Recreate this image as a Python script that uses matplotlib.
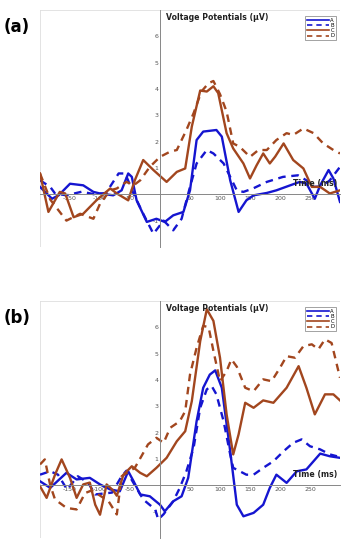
import matplotlib
matplotlib.use("Agg")
import matplotlib.pyplot as plt

# ---------------- data (panel a) ----------------
a_A_t = [-200, -180, -169, -150, -128, -111, -100, -78, -64, -53, -47, -39, -22, -6, 8, 22, 39, 50, 61, 72, 94, 103, 117, 131, 144, 156, 178, 194, 217, 233, 244, 258, 267, 281, 289, 300]
a_A_v = [0.28, -0.17, -0.04, 0.40, 0.34, 0.09, 0.03, -0.04, 0.15, 0.79, 0.66, -0.23, -1.05, -0.93, -1.05, -0.80, -0.67, 0.15, 2.06, 2.38, 2.44, 2.19, 0.53, -0.67, -0.23, -0.04, 0.05, 0.15, 0.34, 0.47, 0.41, -0.17, 0.34, 0.92, 0.60, -0.29]

a_B_t = [-200, -183, -175, -156, -130, -110, -90, -69, -58, -44, -28, -11, 6, 22, 36, 50, 61, 78, 89, 106, 117, 128, 139, 155, 178, 205, 230, 244, 256, 270, 283, 300]
a_B_v = [0.53, 0.28, 0.03, -0.04, 0.10, 0.00, 0.05, 0.79, 0.79, 0.02, -0.74, -1.50, -1.00, -1.37, -0.93, 0.28, 1.17, 1.68, 1.55, 1.17, 0.66, 0.15, 0.09, 0.22, 0.47, 0.66, 0.72, 0.53, 0.28, 0.30, 0.53, 1.04]

a_C_t = [-200, -186, -167, -158, -144, -128, -106, -83, -72, -53, -42, -28, -11, 11, 28, 42, 53, 67, 78, 89, 97, 111, 122, 139, 150, 161, 172, 183, 192, 206, 222, 239, 253, 267, 283, 300]
a_C_v = [0.79, -0.67, 0.09, 0.03, -0.87, -0.74, -0.23, 0.22, 0.03, -0.23, 0.53, 1.30, 0.92, 0.47, 0.85, 0.98, 2.57, 3.94, 3.90, 4.10, 3.84, 2.32, 1.74, 1.17, 0.60, 1.10, 1.55, 1.17, 1.43, 1.93, 1.30, 0.98, 0.28, 0.28, 0.03, 0.15]

a_D_t = [-200, -183, -156, -133, -111, -100, -83, -72, -56, -44, -33, -17, 0, 17, 28, 44, 56, 69, 81, 89, 100, 111, 122, 133, 150, 164, 178, 194, 211, 222, 239, 256, 272, 289, 300]
a_D_v = [0.79, -0.20, -1.00, -0.74, -0.93, -0.36, 0.15, 0.22, 0.47, 0.34, 0.53, 1.04, 1.42, 1.62, 1.68, 2.44, 3.08, 3.90, 4.22, 4.30, 3.80, 3.14, 1.93, 1.80, 1.42, 1.68, 1.68, 2.06, 2.32, 2.25, 2.50, 2.32, 1.93, 1.68, 1.55]

# ---------------- data (panel b) ----------------
b_A_t = [-200, -183, -156, -139, -117, -100, -83, -67, -53, -44, -33, -17, 0, 8, 22, 36, 47, 61, 72, 83, 92, 103, 117, 128, 139, 156, 172, 183, 194, 211, 228, 244, 267, 283, 300]
b_A_v = [0.15, -0.10, 0.47, 0.22, 0.28, 0.03, -0.16, -0.23, 0.53, 0.15, -0.35, -0.42, -0.74, -0.99, -0.61, -0.42, 0.28, 2.43, 3.70, 4.20, 4.36, 3.70, 1.29, -0.74, -1.18, -1.05, -0.74, -0.10, 0.40, 0.09, 0.53, 0.60, 1.20, 1.10, 1.04]

b_B_t = [-200, -183, -170, -155, -137, -120, -108, -80, -64, -56, -42, -28, -8, -3, 6, 22, 33, 44, 56, 67, 78, 86, 94, 106, 117, 122, 133, 144, 156, 172, 189, 206, 222, 236, 250, 267, 283, 295]
b_B_v = [0.40, 0.53, 0.40, -0.16, 0.34, 0.10, -0.35, -0.28, 0.34, 0.55, 0.00, -0.54, -0.92, -1.30, -1.10, -0.61, -0.10, 0.53, 1.42, 2.94, 3.64, 3.77, 3.45, 2.43, 1.17, 0.66, 0.53, 0.40, 0.40, 0.66, 0.91, 1.29, 1.61, 1.74, 1.48, 1.36, 1.17, 1.10]

b_C_t = [-200, -189, -175, -164, -150, -139, -128, -117, -108, -100, -89, -78, -72, -61, -47, -33, -22, -6, 11, 28, 42, 53, 67, 78, 89, 100, 111, 122, 131, 142, 156, 172, 189, 211, 231, 244, 258, 275, 289, 300]
b_C_v = [-0.04, -0.48, 0.40, 0.98, 0.28, -0.48, 0.03, 0.10, -0.74, -1.12, 0.03, -0.20, -0.40, 0.40, 0.72, 0.47, 0.34, 0.66, 1.04, 1.67, 2.05, 3.19, 5.47, 6.68, 6.24, 4.84, 2.69, 1.17, 1.93, 3.13, 2.94, 3.22, 3.13, 3.70, 4.52, 3.70, 2.69, 3.45, 3.45, 3.22]

b_D_t = [-200, -192, -183, -175, -156, -139, -125, -114, -103, -86, -72, -64, -42, -31, -20, -6, 6, 17, 33, 42, 50, 61, 72, 81, 89, 100, 111, 119, 128, 142, 156, 172, 186, 200, 211, 225, 239, 253, 264, 275, 286, 300]
b_D_v = [0.79, 0.98, 0.00, -0.54, -0.86, -0.92, -0.30, -0.20, -0.35, -0.60, -1.11, 0.34, 0.66, 1.10, 1.55, 1.80, 1.61, 2.18, 2.43, 2.81, 4.20, 5.22, 6.05, 6.00, 5.10, 3.95, 4.33, 4.78, 4.50, 3.70, 3.57, 4.02, 3.95, 4.46, 4.90, 4.84, 5.28, 5.35, 5.16, 5.54, 5.40, 4.08]

series_names = ["A", "B", "C", "D"]
xticks = [-150, -100, -50, 50, 100, 150, 200, 250]
yticks = [-1, 1, 2, 3, 4, 5, 6]

BLUE = "#1515d0"
BROWN = "#a2461e"
styles = [(BLUE, "-"), (BLUE, (0, (3.2, 2.4))), (BROWN, "-"), (BROWN, (0, (3.2, 2.4)))]

fig = plt.figure(figsize=(3.48, 5.5), dpi=100)

panels = [
    ("(a)", [0.115, 0.551, 0.862, 0.431], [(a_A_t, a_A_v), (a_B_t, a_B_v), (a_C_t, a_C_v), (a_D_t, a_D_v)], 27),
    ("(b)", [0.115, 0.022, 0.862, 0.431], [(b_A_t, b_A_v), (b_B_t, b_B_v), (b_C_t, b_C_v), (b_D_t, b_D_v)], 318),
]

for label, rect, data, label_py in panels:
    ax = fig.add_axes(rect)
    ax.set_xlim(-200, 300)
    ax.set_ylim(-2, 7)
    ax.set_xticks(list(range(-200, 301, 50)), minor=True)
    ax.set_yticks(list(range(-2, 8)), minor=True)
    ax.grid(True, which="minor", color="#dedede", lw=0.6)
    ax.set_xticks(xticks)
    ax.set_yticks(yticks)
    ax.set_xticklabels([str(v) for v in xticks])
    ax.set_yticklabels([str(v) for v in yticks])
    ax.tick_params(which="both", length=0)
    ax.tick_params(axis="both", labelsize=4.5, labelcolor="#555555", pad=1)
    ax.spines["left"].set_position(("data", 0))
    ax.spines["bottom"].set_position(("data", 0))
    ax.spines["right"].set_visible(False)
    ax.spines["top"].set_visible(False)
    for s in ("left", "bottom"):
        ax.spines[s].set_color("#888888")
        ax.spines[s].set_linewidth(0.7)

    for (t, v), name, (c, ls) in zip(data, series_names, styles):
        ax.plot(t, v, color=c, linestyle=ls, lw=1.7, label=name,
                solid_joinstyle="round", dash_joinstyle="round")

    ax.text(10, 6.72, "Voltage Potentials (µV)", fontsize=5.6, fontweight="bold", ha="left", va="center", color="#222222")
    ax.text(296, 0.4, "Time (ms)", fontsize=5.6, fontweight="bold", ha="right", va="center", color="#222222")
    leg = ax.legend(loc="upper right", fontsize=3.8, handlelength=4.2, handletextpad=0.3,
                    borderpad=0.3, labelspacing=0.05, frameon=True, fancybox=False,
                    bbox_to_anchor=(0.995, 0.985))
    leg.get_frame().set_edgecolor("#777777")
    leg.get_frame().set_linewidth(0.6)
    for h in leg.get_lines():
        h.set_linewidth(1.2)

    fig.text(17 / 348, 1 - label_py / 550, label, fontsize=12, fontweight="bold", ha="center", va="center")

fig.savefig("out.png", dpi=100)
